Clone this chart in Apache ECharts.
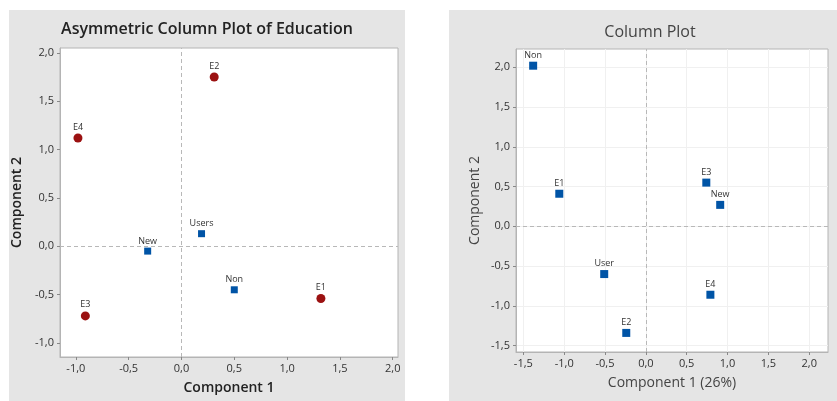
<!DOCTYPE html>
<html>
<head>
<meta charset="utf-8">
<script src="https://cdn.jsdelivr.net/npm/echarts@6/dist/echarts.min.js"></script>
<style>
  html, body { margin: 0; padding: 0; background: #fff; }
  #chart { width: 837px; height: 401px; }
</style>
</head>
<body>
<div id="chart"></div>
<script>
// left panel: asymmetric plot
var leftRowNames = ['Non', 'New', 'Users'];
var leftRowX = [0.50, -0.32, 0.19];
var leftRowY = [-0.45, -0.05, 0.13];
var leftColNames = ['E1', 'E2', 'E3', 'E4'];
var leftColX = [1.32, 0.31, -0.91, -0.98];
var leftColY = [-0.54, 1.75, -0.72, 1.12];
var leftXTicks = [-1.0, -0.5, 0.0, 0.5, 1.0, 1.5, 2.0];
var leftYTicks = [-1.0, -0.5, 0.0, 0.5, 1.0, 1.5, 2.0];

// right panel: column plot
var rightNames = ['Non', 'E1', 'E3', 'New', 'User', 'E4', 'E2'];
var rightX = [-1.38, -1.06, 0.74, 0.91, -0.51, 0.79, -0.24];
var rightY = [2.02, 0.41, 0.55, 0.27, -0.60, -0.86, -1.34];
var rightXTicks = [-1.5, -1.0, -0.5, 0.0, 0.5, 1.0, 1.5, 2.0];
var rightYTicks = [-1.5, -1.0, -0.5, 0.0, 0.5, 1.0, 1.5, 2.0];

function pts(names, xs, ys) {
  return names.map(function (n, i) { return { name: n, value: [xs[i], ys[i]] }; });
}
function fmt(v) { return v.toFixed(1).replace('.', ','); }

var font = '"Open Sans", "Noto Sans", sans-serif';
var zeroLine = {
  silent: true, symbol: 'none', label: { show: false },
  lineStyle: { color: '#b8b8b8', type: [4, 3], width: 1 },
  data: [{ xAxis: 0 }, { yAxis: 0 }]
};
var ptLabel = { show: true, position: 'top', distance: 2, fontSize: 9, color: '#333', fontFamily: font,
  formatter: function (p) { return p.name; } };

function axisBase(ticks, extra) {
  return Object.assign({
    type: 'value',
    axisLine: { show: true, onZero: false, lineStyle: { color: '#b4b4b4' } },
    axisTick: { show: true, length: 3, customValues: ticks, lineStyle: { color: '#888' } },
    axisLabel: { customValues: ticks, fontSize: 11, color: '#333', fontFamily: font, formatter: fmt, margin: 6 },
    nameLocation: 'middle',
    nameTextStyle: { fontSize: 14, color: '#222', fontFamily: font }
  }, extra);
}

var chart = echarts.init(document.getElementById('chart'));
chart.setOption({
  animation: false,
  graphic: [
    { type: 'rect', z: -100, shape: { x: 9, y: 10, width: 396, height: 391 }, style: { fill: '#e5e5e5' } },
    { type: 'rect', z: -100, shape: { x: 449, y: 10, width: 388, height: 391 }, style: { fill: '#e5e5e5' } },
    { type: 'text', x: 207, y: 29, style: { text: 'Asymmetric Column Plot of Education', textAlign: 'center', textVerticalAlign: 'middle',
        font: '600 16px ' + font, fill: '#222' } },
    { type: 'text', x: 650, y: 32, style: { text: 'Column Plot', textAlign: 'center', textVerticalAlign: 'middle',
        font: '16px ' + font, fill: '#444' } }
  ],
  grid: [
    { left: 60, top: 48, width: 338, height: 309, show: true, backgroundColor: '#fff', borderColor: '#b4b4b4' },
    { left: 516, top: 49, width: 312, height: 303, show: true, backgroundColor: '#fff', borderColor: '#b4b4b4' }
  ],
  xAxis: [
    axisBase(leftXTicks, { gridIndex: 0, min: -1.15, max: 2.05, splitLine: { show: false },
      name: 'Component 1', nameGap: 24, nameTextStyle: { fontSize: 14, fontWeight: 600, color: '#222', fontFamily: font } }),
    axisBase(rightXTicks, { gridIndex: 1, min: -1.59, max: 2.23, splitLine: { show: true, lineStyle: { color: '#f0f0f0' } },
      name: 'Component 1 (26%)', nameGap: 24, nameTextStyle: { fontSize: 14, color: '#444', fontFamily: font } })
  ],
  yAxis: [
    axisBase(leftYTicks, { gridIndex: 0, min: -1.145, max: 2.05, splitLine: { show: false },
      name: 'Component 2', nameGap: 36, nameTextStyle: { fontSize: 14, fontWeight: 600, color: '#222', fontFamily: font } }),
    axisBase(rightYTicks, { gridIndex: 1, min: -1.58, max: 2.23, splitLine: { show: true, lineStyle: { color: '#f0f0f0' } },
      name: 'Component 2', nameGap: 34, nameTextStyle: { fontSize: 14, color: '#444', fontFamily: font } })
  ],
  series: [
    { type: 'scatter', xAxisIndex: 0, yAxisIndex: 0, symbol: 'rect', symbolSize: 7,
      itemStyle: { color: '#0054a6', opacity: 1 }, label: ptLabel, markLine: zeroLine,
      data: pts(leftRowNames, leftRowX, leftRowY) },
    { type: 'scatter', xAxisIndex: 0, yAxisIndex: 0, symbol: 'circle', symbolSize: 9,
      itemStyle: { color: '#9b1111', opacity: 1 }, label: ptLabel,
      data: pts(leftColNames, leftColX, leftColY) },
    { type: 'scatter', xAxisIndex: 1, yAxisIndex: 1, symbol: 'rect', symbolSize: 8,
      itemStyle: { color: '#0054a6', opacity: 1 }, label: ptLabel, markLine: zeroLine,
      data: pts(rightNames, rightX, rightY) }
  ]
});
</script>
</body>
</html>
